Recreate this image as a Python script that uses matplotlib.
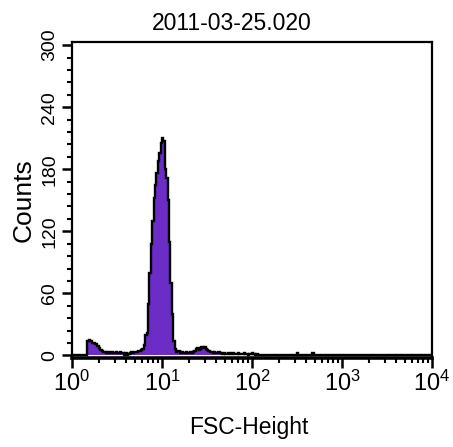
import numpy as np
import matplotlib
matplotlib.use("Agg")
import matplotlib.pyplot as plt
from matplotlib import font_manager
from matplotlib.ticker import FixedLocator, FixedFormatter, LogLocator, MultipleLocator, NullFormatter

# pick a narrow sans if there is one, otherwise plain Liberation Sans
names = set(f.name for f in font_manager.fontManager.ttflist)
narrow = "Liberation Sans Narrow" if "Liberation Sans Narrow" in names else "Liberation Sans"
plt.rcParams["font.family"] = [narrow, "DejaVu Sans"]
plt.rcParams["mathtext.fontset"] = "custom"
plt.rcParams["mathtext.rm"] = narrow

# FSC-Height histogram, 256 log channels over 4 decades (1e0 .. 1e4)
n_channels = 256
counts = np.zeros(n_channels)

# small debris hump, channels 11..49
debris_start = 11
debris = [14, 15, 14, 12, 12, 11, 11, 9, 7, 5, 4,
          3, 3, 2, 3, 2, 2, 3, 2, 2, 3, 2, 2, 3, 2, 2,
          0, 2, 0, 1,
          2, 3, 2, 3, 3, 3, 4, 4, 5]

# main population, channels 50..74
peak_start = 50
peak = [6, 10, 20, 22, 50, 80, 108, 130, 152, 165, 176, 188, 196, 205,
        210, 207, 180, 172, 150, 110, 70, 40, 14, 6, 3]

# tail after the peak, channels 75..131
tail_start = 75
tail = [4, 4, 2, 3, 2, 2, 3, 2, 2, 3, 2, 3, 4,
        6, 7, 5, 6, 8, 7, 8, 6, 5, 4,
        3, 3, 2, 3, 2, 2, 3, 2, 2,
        1, 2, 1, 1, 2, 1, 1, 2, 1, 1, 1, 2, 1, 1, 1, 2, 1, 1, 0, 1, 1, 2, 1, 0, 1]

# a couple of isolated events further out
single_channels = [160, 171]
single_counts = [2, 2]

counts[debris_start:debris_start + len(debris)] = debris
counts[peak_start:peak_start + len(peak)] = peak
counts[tail_start:tail_start + len(tail)] = tail
counts[single_channels] = single_counts

edges = 10 ** (np.arange(n_channels + 1) * 4.0 / n_channels)

x_ticks = [1, 10, 100, 1000, 10000]
x_labels = [r"$\mathregular{10^{0}}$", r"$\mathregular{10^{1}}$", r"$\mathregular{10^{2}}$",
            r"$\mathregular{10^{3}}$", r"$\mathregular{10^{4}}$"]
y_ticks = [0, 60, 120, 180, 240, 300]

fill_color = "#6c2dc7"

fig = plt.figure(figsize=(4.53, 4.47), dpi=100)
ax = fig.add_axes([72 / 453, 1 - 358 / 447, 360 / 453, 316 / 447])

ax.stairs(counts, edges, fill=True, color=fill_color, linewidth=0)
ax.stairs(counts, edges, color="black", linewidth=1.7)

ax.set_xscale("log")
ax.set_xlim(1, 1e4)
ax.set_ylim(-2.5, 303)

ax.xaxis.set_major_locator(FixedLocator(x_ticks))
ax.xaxis.set_major_formatter(FixedFormatter(x_labels))
ax.xaxis.set_minor_locator(LogLocator(base=10, subs=np.arange(2, 10), numticks=20))
ax.xaxis.set_minor_formatter(NullFormatter())

ax.yaxis.set_major_locator(FixedLocator(y_ticks))
ax.yaxis.set_minor_locator(MultipleLocator(12))

for s in ax.spines.values():
    s.set_linewidth(1.6)
ax.spines["bottom"].set_linewidth(2.6)

ax.tick_params(which="major", direction="out", length=7.5, width=1.8, color="black")
ax.tick_params(which="minor", direction="out", length=3.8, width=1.5, color="black")
ax.tick_params(axis="x", which="major", labelsize=17, pad=1.5)
ax.tick_params(axis="y", which="major", labelsize=14, pad=2.5)
plt.setp(ax.get_yticklabels(), rotation=90, va="center")

fig.text(232 / 453, 1 - 30 / 447, "2011-03-25.020", fontsize=16.5, ha="center", va="baseline")
fig.text(249 / 453, 1 - 434 / 447, "FSC-Height", fontsize=16.5, ha="center", va="baseline")
fig.text(23.5 / 453, 1 - 200 / 447, "Counts", fontsize=19, rotation=90,
         ha="center", va="center", family=["Liberation Sans", "DejaVu Sans"])

fig.savefig("out.png", dpi=100)
